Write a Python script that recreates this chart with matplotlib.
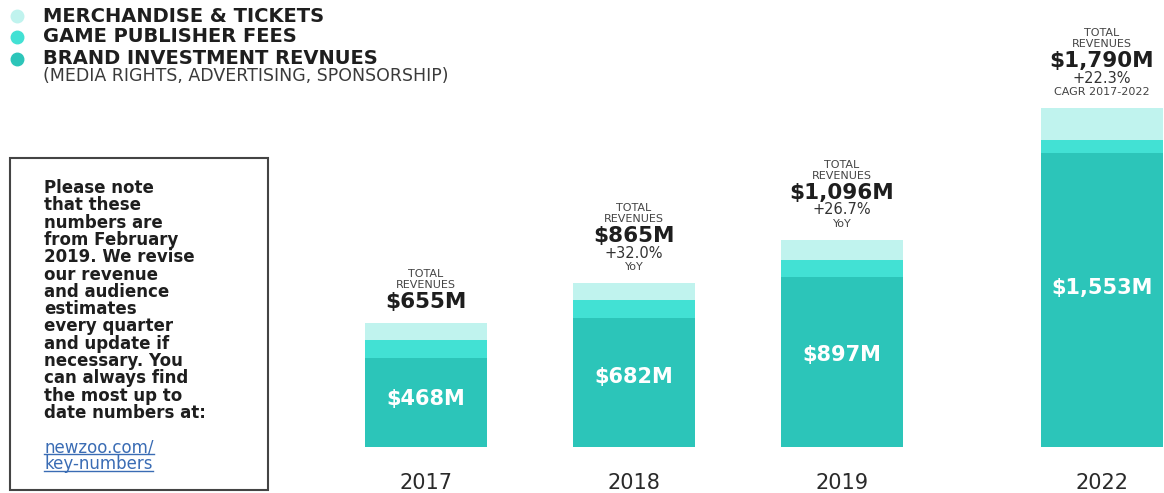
import matplotlib.pyplot as plt
from matplotlib.patches import Rectangle
from matplotlib.lines import Line2D

# data
years = ["2017", "2018", "2019", "2022"]
brand = [468, 682, 897, 1553]
game_fees = [97, 94, 91, 69]
merch = [90, 89, 108, 168]
totals = [655, 865, 1096, 1790]
total_labels = ["$655M", "$865M", "$1,096M", "$1,790M"]
brand_labels = ["$468M", "$682M", "$897M", "$1,553M"]
growth = ["", "+32.0%", "+26.7%", "+22.3%"]
growth_note = ["", "YoY", "YoY", "CAGR 2017-2022"]
legend_names = ["MERCHANDISE & TICKETS", "GAME PUBLISHER FEES", "BRAND INVESTMENT REVNUES"]
legend_sub = "(MEDIA RIGHTS, ADVERTISING, SPONSORSHIP)"
note_lines = ["Please note", "that these", "numbers are", "from February",
              "2019. We revise", "our revenue", "and audience", "estimates",
              "every quarter", "and update if", "necessary. You", "can always find",
              "the most up to", "date numbers at:"]
link_lines = ["newzoo.com/", "key-numbers"]

c_brand = "#2cc5b9"
c_game = "#42e1d4"
c_merch = "#c0f3ee"
dark = "#1e1e1e"

W, H = 1164, 493
fig = plt.figure(figsize=(W / 100, H / 100), dpi=100)
ax = fig.add_axes([0, 0, 1, 1])

# x positions (2022 sits after a wider gap)
xpos = [0, 1, 2, 3.25]
px_per_unit = 208
px_per_m = 0.1893
x0_px, y0_px = 426, 447
ax.set_xlim(-x0_px / px_per_unit, (W - x0_px) / px_per_unit)
ax.set_ylim(-(H - y0_px) / px_per_m, y0_px / px_per_m)
ax.axis("off")

bw = 122 / px_per_unit
bottom2 = [b + g for b, g in zip(brand, game_fees)]
ax.bar(xpos, brand, width=bw, color=c_brand)
ax.bar(xpos, game_fees, bottom=brand, width=bw, color=c_game)
ax.bar(xpos, merch, bottom=bottom2, width=bw, color=c_merch)

for i, x in enumerate(xpos):
    ax.text(x, brand[i] * 0.54, brand_labels[i], ha="center", va="center",
            color="white", fontsize=15, fontweight="bold")
    ax.annotate(years[i], (x, 0), xytext=(0, -36), textcoords="offset pixels",
                ha="center", va="center", fontsize=15, color="#2a2a2a")
    # label stack above bar, offsets in pixels
    if growth[i]:
        stack = [(growth_note[i], 16, 8, "normal", "#444444"),
                 (growth[i], 30, 10.5, "normal", "#333333"),
                 (total_labels[i], 47, 15.5, "bold", dark),
                 ("REVENUES", 64, 8, "normal", "#444444"),
                 ("TOTAL", 75, 8, "normal", "#444444")]
    else:
        stack = [(total_labels[i], 21, 15.5, "bold", dark),
                 ("REVENUES", 38, 8, "normal", "#444444"),
                 ("TOTAL", 49, 8, "normal", "#444444")]
    for txt, off, fs, fw, col in stack:
        ax.annotate(txt, (x, totals[i]), xytext=(0, off), textcoords="offset pixels",
                    ha="center", va="center", fontsize=fs, fontweight=fw, color=col)

# legend
def fy(py):
    return 1 - py / H

for name, col, py in zip(legend_names, [c_merch, c_game, c_brand], [16, 37, 59]):
    fig.lines.append(Line2D([17 / W], [fy(py)], transform=fig.transFigure, marker="o",
                            markersize=9, color=col, linestyle="none"))
    fig.text(43 / W, fy(py), name, ha="left", va="center", fontsize=14,
             fontweight="bold", color=dark)
fig.text(43 / W, fy(76), legend_sub, ha="left", va="center", fontsize=12.5,
         color="#3a3a3a")

# note box
fig.patches.append(Rectangle((10 / W, fy(490)), 258 / W, 332 / H, transform=fig.transFigure,
                             fill=False, edgecolor="#444444", linewidth=1.5, figure=fig))
for k, line in enumerate(note_lines):
    fig.text(44 / W, fy(188 + 17.3 * k), line, ha="left", va="center",
             fontsize=12, fontweight="bold", color=dark)
link_texts = []
for k, line in enumerate(link_lines):
    t = fig.text(44 / W, fy(447 + 17.3 * k), line, ha="left", va="center",
                 fontsize=12, color="#3a6cb4")
    link_texts.append(t)

fig.canvas.draw()
r = fig.canvas.get_renderer()
for t in link_texts:
    bb = t.get_window_extent(r)
    yl = bb.y0 + 2
    fig.lines.append(Line2D([bb.x0 / W, bb.x1 / W], [yl / H, yl / H],
                            transform=fig.transFigure, color="#3a6cb4", linewidth=1))

fig.savefig("out.png", dpi=100)
